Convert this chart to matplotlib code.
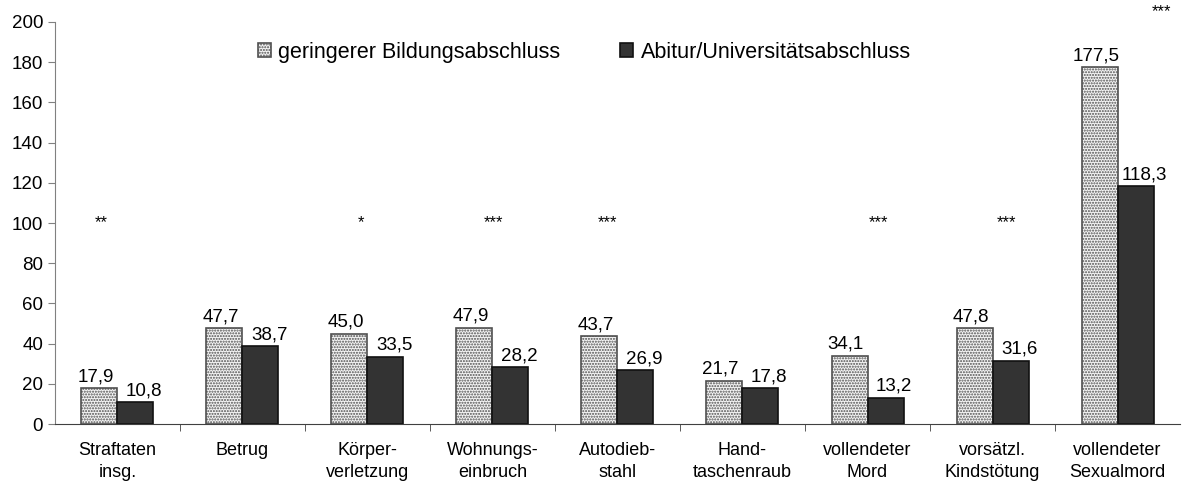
import matplotlib
matplotlib.use("Agg")
import matplotlib.pyplot as plt
import numpy as np

plt.rcParams['font.family'] = ['Liberation Sans', 'DejaVu Sans']
plt.rcParams['hatch.color'] = '#808080'
plt.rcParams['hatch.linewidth'] = 1.0

categories = ["Straftaten\ninsg.", "Betrug", "Körper-\nverletzung", "Wohnungs-\neinbruch",
              "Autodieb-\nstahl", "Hand-\ntaschenraub", "vollendeter\nMord",
              "vorsätzl.\nKindstötung", "vollendeter\nSexualmord"]
low_edu = [17.9, 47.7, 45.0, 47.9, 43.7, 21.7, 34.1, 47.8, 177.5]
high_edu = [10.8, 38.7, 33.5, 28.2, 26.9, 17.8, 13.2, 31.6, 118.3]
series_names = ["geringerer Bildungsabschluss", "Abitur/Universitätsabschluss"]
stars = ["**", "", "*", "***", "***", "", "***", "***", "***"]
star_y = [100, 100, 100, 100, 100, 100, 100, 100, 205]
star_dx = [-0.13, 0, -0.05, 0.01, -0.08, 0, 0.09, 0.11, 0.35]

fig = plt.figure(figsize=(11.92, 4.87), dpi=100)
ax = fig.add_axes([0.046, 0.129, 0.944, 0.826])

x = np.arange(len(categories))
w = 0.288
b1 = ax.bar(x - w/2, low_edu, w, color='#f4f4f4', edgecolor='#505050', linewidth=1.2,
            hatch='......', label=series_names[0])
b2 = ax.bar(x + w/2, high_edu, w, color='#333333', edgecolor='#111111', linewidth=1.2,
            label=series_names[1])

def fmt(v):
    return f"{v:.1f}".replace('.', ',')

for xi, v in zip(x, low_edu):
    ax.text(xi - w/2 - 0.03, v + 1.5, fmt(v), ha='center', va='bottom', fontsize=13.5)
for xi, v in zip(x, high_edu):
    ax.text(xi + w/2 + 0.07, v + 1.5, fmt(v), ha='center', va='bottom', fontsize=13.5)

for xi, s, sy, dx in zip(x, stars, star_y, star_dx):
    if s:
        ax.text(xi + dx, sy, s, ha='center', va='center', fontsize=12, clip_on=False)

ax.set_xlim(-0.5, len(categories) - 0.5)
ax.set_ylim(0, 200)
ax.set_yticks(np.arange(0, 201, 20))
ax.tick_params(axis='y', labelsize=13.5, length=5, color='#808080', direction='out')
ax.set_xticks(x)
ax.set_xticklabels(categories, fontsize=13, linespacing=1.35)
ax.tick_params(axis='x', length=0, pad=13)
ax.set_xticks(np.arange(0.5, len(categories) - 0.5, 1), minor=True)
ax.tick_params(axis='x', which='minor', length=5, color='#404040', direction='out')

for s in ['top', 'right']:
    ax.spines[s].set_visible(False)
ax.spines['left'].set_color('#808080')
ax.spines['bottom'].set_color('#404040')

leg = ax.legend(loc='center left', bbox_to_anchor=(0.163, 0.925), ncol=2, frameon=False,
                fontsize=15.5, handlelength=0.6, handleheight=0.6, columnspacing=2.8,
                handletextpad=0.35)

fig.savefig("out.png", dpi=100)
